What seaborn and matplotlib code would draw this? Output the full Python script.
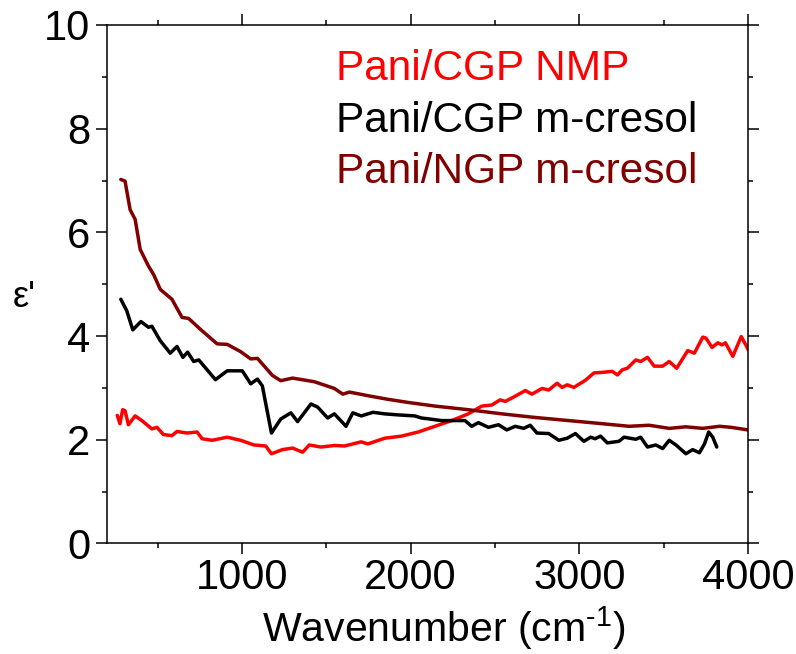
import numpy as np
import pandas as pd
import seaborn as sns
import matplotlib
matplotlib.use("Agg")
import matplotlib.pyplot as plt
from matplotlib.ticker import MultipleLocator

# Real part of the permittivity versus wavenumber for three polyaniline composites
cgp_nmp_x = [261, 277, 293, 307, 327, 367, 407, 466, 496, 535, 585, 615, 674, 734, 764,
             823, 913, 992, 1071, 1141, 1175, 1240, 1300, 1360, 1399, 1469, 1548, 1608,
             1707, 1747, 1846, 1945, 2045, 2144, 2243, 2342, 2422, 2481, 2531, 2561,
             2620, 2680, 2719, 2779, 2819, 2868, 2898, 2928, 2968, 3037, 3087, 3136,
             3196, 3226, 3255, 3285, 3335, 3364, 3404, 3444, 3494, 3533, 3577, 3643,
             3682, 3732, 3751, 3787, 3821, 3846, 3866, 3910, 3960, 3990, 4000]
cgp_nmp_y = [2.47, 2.31, 2.58, 2.56, 2.29, 2.46, 2.37, 2.21, 2.24, 2.10, 2.08, 2.16, 2.13,
             2.15, 2.02, 1.99, 2.05, 1.99, 1.90, 1.88, 1.73, 1.81, 1.84, 1.76, 1.90, 1.86,
             1.89, 1.88, 1.96, 1.92, 2.03, 2.07, 2.15, 2.26, 2.37, 2.50, 2.65, 2.67, 2.77,
             2.74, 2.84, 2.95, 2.88, 2.99, 2.96, 3.09, 3.01, 3.06, 3.01, 3.15, 3.29, 3.30,
             3.32, 3.25, 3.35, 3.38, 3.54, 3.51, 3.59, 3.42, 3.42, 3.51, 3.38, 3.72, 3.67,
             3.98, 3.96, 3.78, 3.87, 3.83, 3.87, 3.61, 3.99, 3.81, 3.74]

cgp_mcresol_x = [282, 317, 353, 401, 446, 466, 516, 575, 615, 650, 678, 714, 744, 843,
                 913, 1002, 1052, 1092, 1121, 1147, 1175, 1230, 1290, 1330, 1409, 1449,
                 1508, 1548, 1617, 1657, 1707, 1777, 1846, 1925, 2025, 2064, 2114, 2183,
                 2322, 2362, 2402, 2461, 2521, 2570, 2620, 2670, 2709, 2749, 2819, 2878,
                 2928, 2977, 3027, 3067, 3093, 3126, 3166, 3235, 3265, 3335, 3364, 3404,
                 3454, 3494, 3533, 3573, 3632, 3672, 3712, 3742, 3767, 3791, 3815]
cgp_mcresol_y = [4.71, 4.49, 4.12, 4.28, 4.17, 4.19, 3.91, 3.67, 3.80, 3.59, 3.69, 3.51,
                 3.54, 3.16, 3.33, 3.33, 3.08, 3.17, 3.04, 2.60, 2.13, 2.40, 2.52, 2.35,
                 2.69, 2.63, 2.42, 2.50, 2.26, 2.52, 2.46, 2.53, 2.50, 2.48, 2.46, 2.42,
                 2.40, 2.37, 2.37, 2.26, 2.33, 2.24, 2.29, 2.19, 2.26, 2.22, 2.28, 2.13,
                 2.12, 1.99, 2.03, 2.12, 1.97, 2.05, 2.02, 2.07, 1.94, 1.97, 2.05, 2.01,
                 2.05, 1.86, 1.90, 1.83, 1.99, 1.90, 1.73, 1.81, 1.75, 1.92, 2.15, 2.05,
                 1.86]

ngp_mcresol_x = [282, 307, 337, 367, 397, 446, 476, 516, 585, 645, 684, 754, 853, 913,
                 992, 1052, 1092, 1181, 1230, 1300, 1429, 1548, 1598, 1637, 1747, 1866,
                 1985, 2144, 2342, 2541, 2739, 2938, 3136, 3295, 3414, 3533, 3632, 3732,
                 3831, 3900, 4000]
ngp_mcresol_y = [7.02, 6.99, 6.44, 6.25, 5.67, 5.35, 5.19, 4.90, 4.71, 4.36, 4.34, 4.13,
                 3.85, 3.84, 3.70, 3.56, 3.57, 3.24, 3.14, 3.19, 3.12, 2.99, 2.88, 2.92,
                 2.85, 2.78, 2.72, 2.65, 2.58, 2.50, 2.43, 2.37, 2.31, 2.26, 2.28, 2.22,
                 2.25, 2.22, 2.26, 2.24, 2.19]

series_names = ["Pani/CGP NMP", "Pani/CGP m-cresol", "Pani/NGP m-cresol"]
series_colors = ["#ff0000", "#000000", "#800000"]

x_ticks = [1000, 2000, 3000, 4000]
y_ticks = [0, 2, 4, 6, 8, 10]

frames = []
for name, xs, ys in zip(series_names,
                        [cgp_nmp_x, cgp_mcresol_x, ngp_mcresol_x],
                        [cgp_nmp_y, cgp_mcresol_y, ngp_mcresol_y]):
    frames.append(pd.DataFrame({"wavenumber": xs, "eps": ys, "sample": name}))
df = pd.concat(frames, ignore_index=True)

sns.set_style("ticks")
plt.rcParams["font.family"] = ["Liberation Sans", "DejaVu Sans"]
plt.rcParams["mathtext.fontset"] = "custom"
plt.rcParams["mathtext.rm"] = "Liberation Sans"
plt.rcParams["mathtext.it"] = "Liberation Sans"
for key in ["text.color", "axes.labelcolor", "xtick.color", "ytick.color",
            "xtick.labelcolor", "ytick.labelcolor", "axes.edgecolor"]:
    plt.rcParams[key] = "black"

fig = plt.figure(figsize=(7.96, 6.54), dpi=100)
ax = fig.add_axes([0.1344, 0.169, 0.8053, 0.7928])

sns.lineplot(data=df, x="wavenumber", y="eps", hue="sample",
             hue_order=series_names, palette=series_colors,
             estimator=None, sort=False, linewidth=2.5, legend=False, ax=ax)

ax.set_xlim(200, 4000)
ax.set_ylim(0, 10)
ax.set_xticks(x_ticks)
ax.set_yticks(y_ticks)
ax.xaxis.set_minor_locator(MultipleLocator(500))
ax.yaxis.set_minor_locator(MultipleLocator(1))
ax.set_xlabel("")
ax.set_ylabel("")

for side in ["left", "right", "top", "bottom"]:
    ax.spines[side].set_visible(True)
    ax.spines[side].set_linewidth(1.1)
    ax.spines[side].set_color("black")

ax.tick_params(which="both", direction="out", top=True, right=True,
               width=1.1, color="black", labelcolor="black")
ax.tick_params(which="major", length=7.7, labelsize=30)
ax.tick_params(which="minor", length=3.8)
ax.tick_params(axis="x", which="major", pad=2.5)
ax.tick_params(axis="y", which="major", pad=4.5)

# Sample labels written in the colour of each curve
for i, (name, color) in enumerate(zip(series_names, series_colors)):
    ax.text(0.357, 0.894 - 0.0995 * i, name, color=color, fontsize=30.5,
            transform=ax.transAxes, ha="left", va="baseline")

fig.text(443.5 / 796, 1 - 641.7 / 654, r"Wavenumber (cm$^{\text{-1}}$)",
         fontsize=29.5, ha="center", va="baseline", color="black")
fig.text(12.7 / 796, 1 - 306.7 / 654, "ε'", fontsize=26, ha="left",
         va="baseline", color="black")

fig.savefig("out.png", dpi=100)
